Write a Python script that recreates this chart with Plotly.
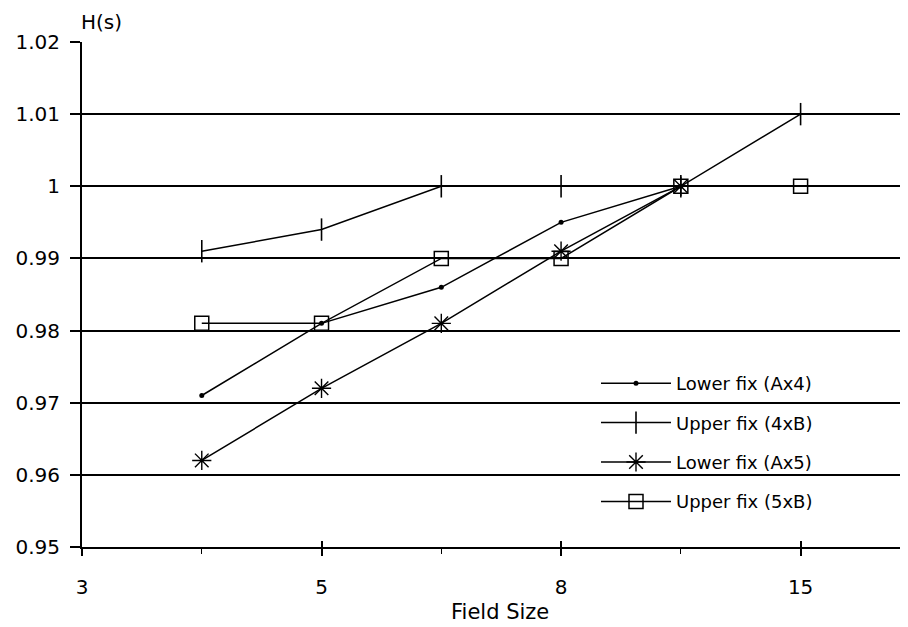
import plotly.graph_objects as go

# Field-size positions (index on the x axis) and tick labels
tick_positions = [0, 2, 4, 6]
tick_labels = ["3", "5", "8", "15"]
minor_positions = [1, 3, 5]

# Series (x = axis position index, y = H(s))
ax4_x = [1, 2, 3, 4, 5]
ax4_y = [0.971, 0.981, 0.986, 0.995, 1.000]

b4_x = [1, 2, 3, 4, 5, 6]
b4_y = [0.991, 0.994, 1.000, 1.000, 1.000, 1.010]

ax5_x = [1, 2, 3, 4, 5]
ax5_y = [0.962, 0.972, 0.981, 0.991, 1.000]

b5_x = [1, 2, 3, 4, 5, 6]
b5_y = [0.981, 0.981, 0.990, 0.990, 1.000, 1.000]

y_ticks = [0.95, 0.96, 0.97, 0.98, 0.99, 1.00, 1.01, 1.02]
y_tick_labels = ["0.95", "0.96", "0.97", "0.98", "0.99", "1", "1.01", "1.02"]

FONT = "DejaVu Sans, Verdana, sans-serif"
LINE = dict(color="black", width=1.5)

fig = go.Figure()
series = [
    ("Lower fix (Ax4)", ax4_x, ax4_y, dict(symbol="circle", size=5, color="black")),
    ("Upper fix (4xB)", b4_x, b4_y, dict(symbol="line-ns", size=16, color="black",
                                          line=dict(color="black", width=1.6))),
    ("Lower fix (Ax5)", ax5_x, ax5_y, dict(symbol="asterisk", size=16, color="black",
                                           line=dict(color="black", width=1.4))),
    ("Upper fix (5xB)", b5_x, b5_y, dict(symbol="square-open", size=14, color="black",
                                          line=dict(color="black", width=1.5))),
]
for i, (name, xs, ys, mk) in enumerate(series):
    fig.add_trace(go.Scatter(x=xs, y=ys, name=name, mode="lines+markers",
                             line=LINE, marker=mk, legendgroup=f"g{i}"))

# invisible helper trace on overlay axis so the crossing major ticks are drawn
fig.add_trace(go.Scatter(x=[0], y=[0.95], xaxis="x2", mode="markers",
                         marker=dict(opacity=0), showlegend=False, hoverinfo="skip"))

W, H = 900, 619
L, T, PW, PH = 74, 34, 824, 505
fig.update_layout(
    width=W, height=H,
    margin=dict(l=L, r=W - L - PW, t=T, b=H - T - PH, autoexpand=False),
    paper_bgcolor="white", plot_bgcolor="white",
    font=dict(family=FONT, color="black"),
    showlegend=True,
    legend=dict(x=(596 - 8 - L) / PW, y=(T + PH - (365 - 8)) / PH,
                xanchor="left", yanchor="top",
                bgcolor="rgba(0,0,0,0)", font=dict(size=18, family=FONT),
                traceorder="grouped", tracegroupgap=13, itemwidth=70),
    xaxis=dict(range=[0, 6.88], tickmode="array", tickvals=tick_positions,
               ticktext=tick_labels, ticks="outside", ticklen=7, tickwidth=1.5,
               tickcolor="black", showline=True, linecolor="black", linewidth=2,
               showgrid=False, zeroline=False, tickfont=dict(size=20),
               ticklabelstandoff=14, automargin=False,
               minor=dict(tickmode="array", tickvals=minor_positions, ticks="outside",
                          ticklen=5, tickwidth=1.2, tickcolor="black", showgrid=False)),
    xaxis2=dict(range=[0, 6.88], overlaying="x", anchor="y", side="bottom",
                tickmode="array", tickvals=tick_positions, ticks="inside", ticklen=6,
                tickwidth=1.5, tickcolor="black", showticklabels=False,
                showgrid=False, zeroline=False, showline=False),
    yaxis=dict(range=[0.95, 1.02], tickmode="array", tickvals=y_ticks,
               ticktext=y_tick_labels, ticks="outside", ticklen=10, tickwidth=1.5,
               tickcolor="black", showline=True, linecolor="black", linewidth=2,
               showgrid=True, gridcolor="black", gridwidth=1.8, zeroline=False,
               tickfont=dict(size=20), ticklabelstandoff=6, automargin=False),
    annotations=[
        dict(text="H(s)", x=(101 - 8 - L) / PW, y=(T + PH - (22 - 8)) / PH,
             xref="paper", yref="paper", showarrow=False, xanchor="center",
             yanchor="middle", font=dict(size=20)),
        dict(text="Field Size", x=(500 - 8 - L) / PW, y=(T + PH - (612 - 8)) / PH,
             xref="paper", yref="paper", showarrow=False, xanchor="center",
             yanchor="middle", font=dict(size=21)),
    ],
)

fig.write_html("out.html")
